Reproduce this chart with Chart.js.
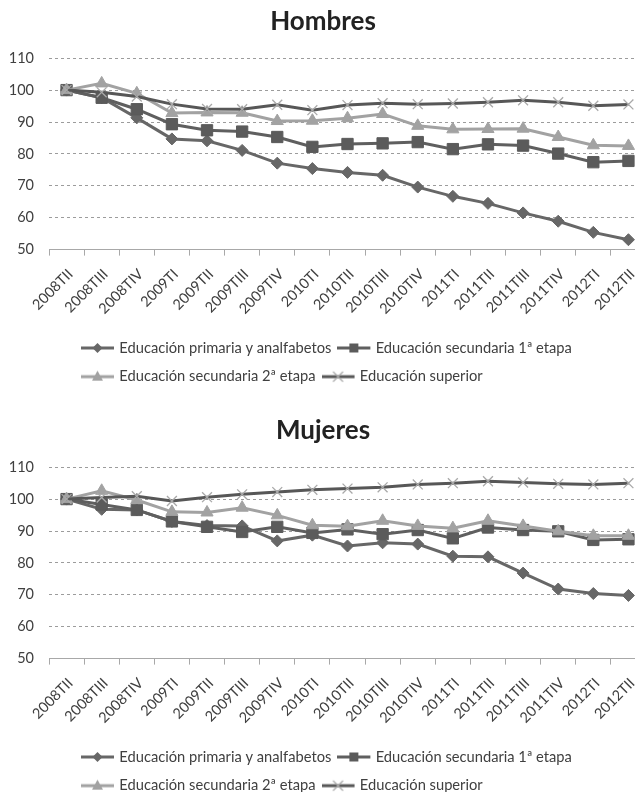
<!DOCTYPE html>
<html lang="es">
<head>
<meta charset="UTF-8">
<title>Hombres y Mujeres por nivel educativo</title>
<script src="https://cdn.jsdelivr.net/npm/chart.js@4.4.0/dist/chart.umd.min.js"></script>
<style>
  html, body { margin: 0; padding: 0; background: #fff; width: 635px; height: 792px; overflow: hidden; }
  .box { position: absolute; left: 0; width: 660px; height: 408px; }
  #boxH { top: 0; }
  #boxM { top: 409px; }
</style>
</head>
<body>
<div class="box" id="boxH"><canvas id="chartH"></canvas></div>
<div class="box" id="boxM"><canvas id="chartM"></canvas></div>
<script>
const quarters = ["2008TII", "2008TIII", "2008TIV", "2009TI", "2009TII", "2009TIII", "2009TIV",
  "2010TI", "2010TII", "2010TIII", "2010TIV", "2011TI", "2011TII", "2011TIII", "2011TIV",
  "2012TI", "2012TII"];
const seriesNames = ["Educación primaria y analfabetos", "Educación secundaria 1ª etapa",
  "Educación secundaria 2ª etapa", "Educación superior"];

// Hombres
const hombresPrimaria = [100, 97.6, 91.3, 84.7, 84.1, 81.1, 77.1, 75.4, 74.2, 73.3, 69.6, 66.7, 64.5, 61.5, 58.9, 55.4, 53.1];
const hombresSec1 = [100, 97.6, 94.0, 89.3, 87.4, 87.0, 85.3, 82.2, 83.1, 83.3, 83.7, 81.5, 83.0, 82.6, 80.1, 77.4, 77.8];
const hombresSec2 = [100, 102.1, 99.0, 92.8, 93.0, 92.9, 90.3, 90.4, 91.2, 92.5, 88.8, 87.7, 87.8, 87.9, 85.3, 82.7, 82.5];
const hombresSuperior = [100, 99.3, 98.0, 95.6, 94.1, 94.0, 95.4, 93.7, 95.3, 95.9, 95.6, 95.8, 96.2, 96.8, 96.2, 95.1, 95.5];

// Mujeres
const mujeresPrimaria = [100, 96.8, 96.6, 93.0, 91.7, 91.6, 86.9, 88.7, 85.3, 86.3, 85.9, 82.1, 81.9, 76.8, 71.8, 70.4, 69.8];
const mujeresSec1 = [100, 98.3, 96.6, 93.0, 91.3, 89.7, 91.3, 89.4, 90.5, 89.0, 90.3, 87.7, 91.1, 90.3, 89.9, 87.2, 87.4];
const mujeresSec2 = [100, 102.6, 99.7, 96.0, 95.8, 97.3, 94.9, 91.8, 91.5, 93.2, 91.6, 90.9, 93.2, 91.6, 89.9, 88.5, 88.5];
const mujeresSuperior = [100, 100.5, 100.9, 99.4, 100.6, 101.5, 102.2, 102.9, 103.3, 103.7, 104.6, 105.0, 105.6, 105.2, 104.8, 104.6, 105.0];

const yTicks = [50, 60, 70, 80, 90, 100, 110];

const styles = [
  {color: "#676767", marker: "rectRot", radius: 6, markerColor: "#676767"},
  {color: "#5f5f5f", marker: "rect", radius: 8, markerColor: "#5b5b5b"},
  {color: "#a2a2a2", marker: "triangle", radius: 7, markerColor: "#a2a2a2"},
  {color: "#575757", marker: "crossRot", radius: 7, markerColor: "#a9a9a9"}
];

// little line + marker pictures for the legend
function legendSymbol(st) {
  const c = document.createElement("canvas");
  c.width = 39; c.height = 14;
  const g = c.getContext("2d");
  g.strokeStyle = st.color; g.lineWidth = 3;
  g.beginPath(); g.moveTo(0, 7); g.lineTo(33, 7); g.stroke();
  const cx = 16.5, cy = 7;
  g.fillStyle = st.markerColor; g.strokeStyle = st.markerColor;
  g.beginPath();
  if (st.marker === "rectRot") {
    g.moveTo(cx, cy - 5); g.lineTo(cx + 5, cy); g.lineTo(cx, cy + 5); g.lineTo(cx - 5, cy);
    g.closePath(); g.fill();
  } else if (st.marker === "rect") {
    g.rect(cx - 4.5, cy - 4.5, 9, 9); g.fill();
  } else if (st.marker === "triangle") {
    g.moveTo(cx, cy - 6); g.lineTo(cx + 5.5, cy + 4); g.lineTo(cx - 5.5, cy + 4);
    g.closePath(); g.fill();
  } else {
    g.lineWidth = 1.2;
    g.moveTo(cx - 5, cy - 5); g.lineTo(cx + 5, cy + 5);
    g.moveTo(cx + 5, cy - 5); g.lineTo(cx - 5, cy + 5); g.stroke();
  }
  return c;
}
const symbols = styles.map(legendSymbol);

const legendShift = {
  id: "legendShift",
  afterLayout(chart) {
    chart.legend.left += 75;
    chart.legend.right += 75;
  }
};

Chart.defaults.font.family = "Lato";
Chart.defaults.color = "#404040";

function makeChart(id, title, series) {
  const datasets = series.map((values, i) => {
    const st = styles[i];
    return {
      label: seriesNames[i],
      data: values,
      borderColor: st.color,
      borderWidth: 3,
      pointStyle: st.marker,
      pointRadius: st.radius,
      pointHoverRadius: st.radius,
      pointBackgroundColor: st.marker === "crossRot" ? "transparent" : st.markerColor,
      pointBorderColor: st.markerColor,
      pointBorderWidth: st.marker === "crossRot" ? 1.3 : 1,
      tension: 0,
      order: 3 - i
    };
  });
  return new Chart(document.getElementById(id), {
    type: "line",
    data: {labels: quarters, datasets: datasets},
    plugins: [legendShift],
    options: {
      responsive: true,
      maintainAspectRatio: false,
      animation: false,
      layout: {padding: {left: 0, right: 14, top: 0, bottom: 14}},
      plugins: {
        title: {
          display: true,
          text: title,
          color: "#222",
          font: {size: 26, weight: "bold"},
          padding: {top: 6, bottom: 21}
        },
        legend: {
          position: "bottom",
          align: "start",
          labels: {
            usePointStyle: true,
            pointStyleWidth: 23,
            padding: 14,
            color: "#404040",
            font: {size: 14.7},
            generateLabels: (chart) => chart.data.datasets.map((ds, i) => ({
              text: ds.label,
              datasetIndex: i,
              pointStyle: symbols[i],
              fontColor: "#404040",
              hidden: false,
              lineWidth: 0,
              strokeStyle: "transparent",
              fillStyle: "transparent"
            }))
          }
        },
        tooltip: {enabled: false}
      },
      scales: {
        x: {
          offset: true,
          grid: {offset: true, drawOnChartArea: false, drawTicks: true, tickLength: 6, color: "#a8a8a8"},
          border: {display: true, color: "#a8a8a8", width: 1},
          ticks: {minRotation: 45, maxRotation: 45, autoSkip: false, padding: 10, labelOffset: 4,
            font: {size: 14.5}, color: "#404040"},
          afterFit: (scale) => { scale.height = 77; }
        },
        y: {
          min: 50,
          max: 110,
          afterBuildTicks: (scale) => { scale.ticks = yTicks.map((v) => ({value: v})); },
          grid: {
            color: (ctx) => ctx.tick && ctx.tick.value === 50 ? "transparent" : "#9c9c9c",
            drawTicks: false
          },
          border: {display: true, color: "transparent", width: 0, dash: [3, 3]},
          ticks: {padding: 15, font: {size: 14.5}, color: "#404040"},
          afterFit: (scale) => { scale.width = 49; }
        }
      }
    }
  });
}

makeChart("chartH", "Hombres", [hombresPrimaria, hombresSec1, hombresSec2, hombresSuperior]);
makeChart("chartM", "Mujeres", [mujeresPrimaria, mujeresSec1, mujeresSec2, mujeresSuperior]);
</script>
</body>
</html>
